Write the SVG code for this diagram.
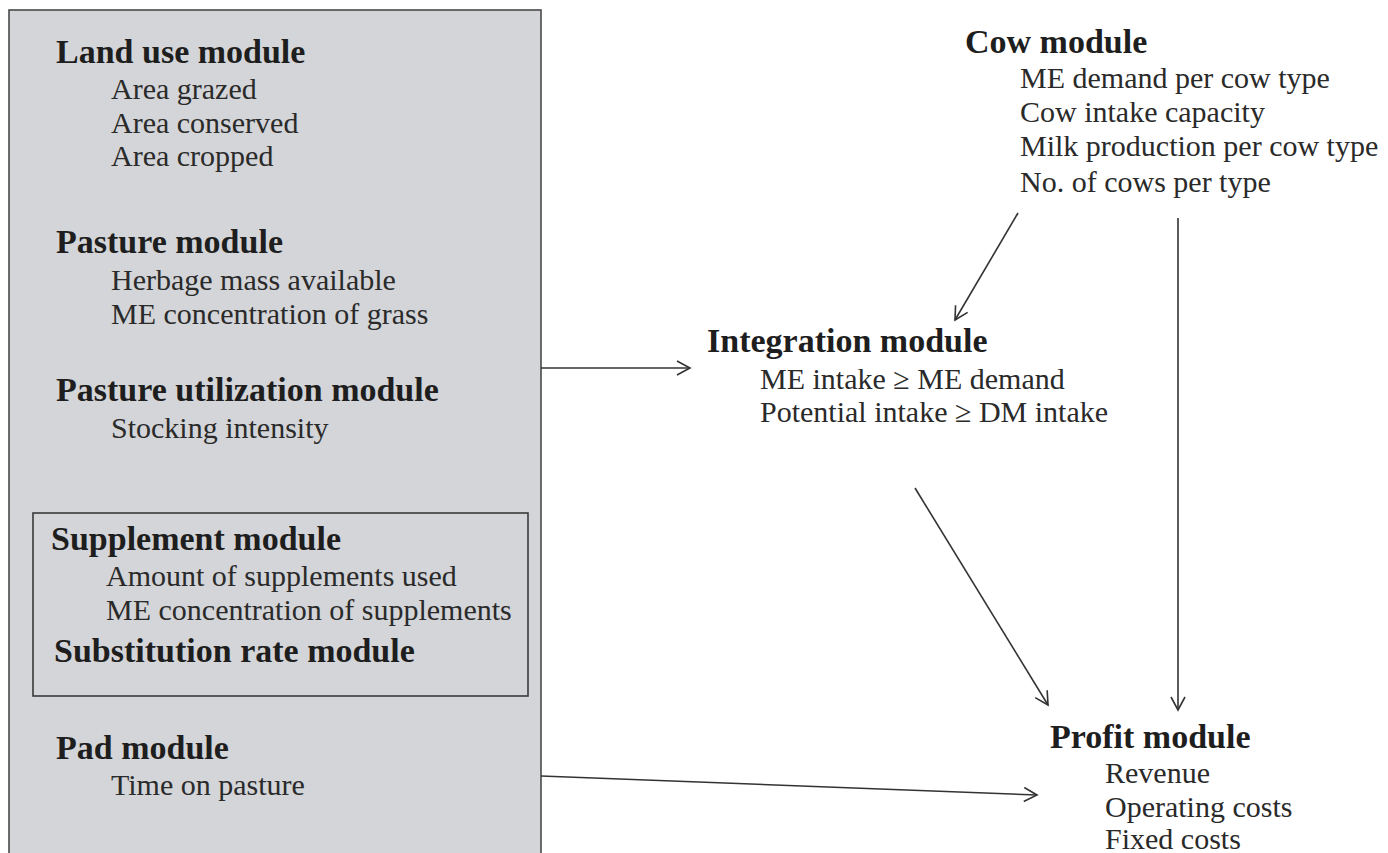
<svg xmlns="http://www.w3.org/2000/svg" width="1388" height="853" viewBox="0 0 1388 853">
<defs>
<style>
.h{font-family:"Liberation Serif","Times New Roman",serif;font-weight:bold;font-size:34px;fill:#1e1e1e}
.t{font-family:"Liberation Serif","Times New Roman",serif;font-size:30px;fill:#2a2a2a}
.c{stroke:#333;stroke-width:1.6;fill:none}
</style>
<marker id="ah" markerUnits="userSpaceOnUse" markerWidth="20" markerHeight="20" viewBox="0 0 20 20" refX="16" refY="10" orient="auto">
<path d="M3,3 L16,10 L3,17" fill="none" stroke="#333" stroke-width="1.6"/>
</marker>
</defs>
<rect width="1388" height="853" fill="#ffffff"/>
<g id="input-panel">
<rect x="9" y="10" width="532" height="860" fill="#d4d5d8" stroke="#4a4a4a" stroke-width="1.6"/>
<rect x="33" y="513" width="495" height="183" fill="none" stroke="#3a3a3a" stroke-width="1.6"/>
</g>
<g id="land-use">
<text class="h" x="56" y="63">Land use module</text>
<text class="t" x="111" y="99">Area grazed</text>
<text class="t" x="111" y="133">Area conserved</text>
<text class="t" x="111" y="166">Area cropped</text>
</g>
<g id="pasture">
<text class="h" x="56" y="253">Pasture module</text>
<text class="t" x="111" y="290">Herbage mass available</text>
<text class="t" x="111" y="324">ME concentration of grass</text>
</g>
<g id="pasture-utilization">
<text class="h" x="56" y="401">Pasture utilization module</text>
<text class="t" x="111" y="438">Stocking intensity</text>
</g>
<g id="supplement">
<text class="h" x="51" y="550">Supplement module</text>
<text class="t" x="106" y="586">Amount of supplements used</text>
<text class="t" x="106" y="620">ME concentration of supplements</text>
<text class="h" x="54" y="662">Substitution rate module</text>
</g>
<g id="pad">
<text class="h" x="56" y="759">Pad module</text>
<text class="t" x="111" y="795">Time on pasture</text>
</g>
<g id="cow">
<text class="h" x="965" y="53">Cow module</text>
<text class="t" x="1020" y="88">ME demand per cow type</text>
<text class="t" x="1020" y="122">Cow intake capacity</text>
<text class="t" x="1020" y="156">Milk production per cow type</text>
<text class="t" x="1020" y="192">No. of cows per type</text>
</g>
<g id="integration">
<text class="h" x="707" y="352">Integration module</text>
<text class="t" x="760" y="389">ME intake ≥ ME demand</text>
<text class="t" x="760" y="422">Potential intake ≥ DM intake</text>
</g>
<g id="profit">
<text class="h" x="1050" y="748">Profit module</text>
<text class="t" x="1105" y="783">Revenue</text>
<text class="t" x="1105" y="817">Operating costs</text>
<text class="t" x="1105" y="849">Fixed costs</text>
</g>
<g id="connectors">
<line class="c" x1="541" y1="368" x2="690" y2="368" marker-end="url(#ah)"/>
<line class="c" x1="1018" y1="213" x2="955" y2="320" marker-end="url(#ah)"/>
<line class="c" x1="1178" y1="218" x2="1178" y2="710" marker-end="url(#ah)"/>
<line class="c" x1="915" y1="488" x2="1048" y2="705" marker-end="url(#ah)"/>
<line class="c" x1="541" y1="776" x2="1037" y2="795" marker-end="url(#ah)"/>
</g>
</svg>
